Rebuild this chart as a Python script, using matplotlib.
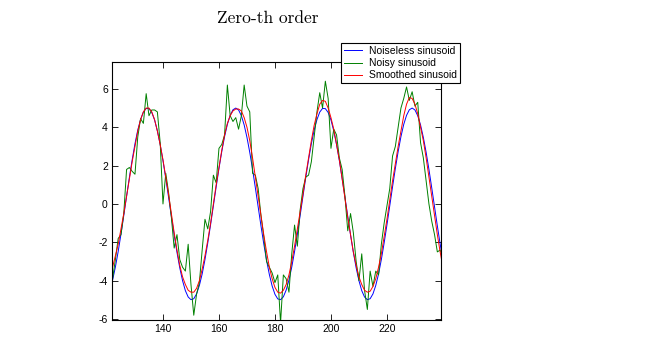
import matplotlib
matplotlib.use("Agg")
import matplotlib.pyplot as plt
import numpy as np

plt.rcParams['axes.unicode_minus'] = False

# sample positions
x = np.arange(121, 241)

noiseless = [
    -4.49, -3.97, -3.29, -2.48, -1.57, -0.60, 0.40, 1.38, 2.30, 3.14,
    3.85, 4.40, 4.79, 4.98, 4.97, 4.77, 4.38, 3.81, 3.10, 2.26,
    1.33, 0.35, -0.65, -1.62, -2.52, -3.33, -4.00, -4.52, -4.85, -4.99,
    -4.94, -4.69, -4.25, -3.65, -2.90, -2.03, -1.09, -0.10, 0.89, 1.85,
    2.73, 3.51, 4.15, 4.62, 4.91, 5.00, 4.90, 4.60, 4.12, 3.47,
    2.69, 1.80, 0.84, -0.15, -1.14, -2.08, -2.94, -3.68, -4.28, -4.71,
    -4.95, -4.99, -4.84, -4.49, -3.97, -3.29, -2.48, -1.57, -0.60, 0.40,
    1.38, 2.30, 3.14, 3.85, 4.40, 4.79, 4.98, 4.97, 4.77, 4.38,
    3.81, 3.10, 2.26, 1.33, 0.35, -0.65, -1.62, -2.52, -3.33, -4.00,
    -4.52, -4.85, -4.99, -4.94, -4.69, -4.25, -3.65, -2.90, -2.03, -1.09,
    -0.10, 0.89, 1.85, 2.73, 3.51, 4.15, 4.62, 4.91, 5.00, 4.90,
    4.60, 4.12, 3.47, 2.69, 1.80, 0.84, -0.15, -1.14, -2.08, -2.94,
]

noisy = [
    -4.4, -3.9, -2.9, -1.8, -1.6, -0.5, 1.8, 1.9, 1.7, 1.55,
    3.5, 4.45, 4.2, 5.75, 4.6, 4.9, 4.9, 4.8, 3.2, 0.0,
    1.6, 0.6, -0.7, -2.3, -1.6, -2.9, -3.3, -3.5, -2.1, -4.2,
    -5.8, -4.7, -4.1, -2.4, -0.8, -1.3, -0.4, 1.5, 1.1, 2.9,
    3.1, 3.6, 6.2, 4.6, 4.3, 4.5, 3.9, 4.6, 6.2, 5.1,
    4.8, 1.6, 1.5, 0.8, -0.6, -1.7, -3.0, -3.3, -3.6, -4.1,
    -3.7, -6.2, -3.7, -3.9, -4.6, -2.6, -1.1, -2.2, -0.3, 0.8,
    1.4, 1.5, 2.2, 3.5, 4.8, 5.8, 5.0, 6.4, 5.5, 2.9,
    3.9, 3.6, 2.4, 1.8, 0.4, -1.4, -0.5, -1.5, -3.0, -4.0,
    -2.6, -4.5, -5.5, -3.5, -4.3, -3.5, -3.7, -2.1, -1.0, -0.1,
    0.8, 2.5, 3.0, 4.0, 5.0, 5.5, 6.1, 5.4, 5.85, 5.1,
    5.3, 3.2, 2.4, 1.2, 0.0, -0.9, -1.6, -2.5, -2.4, -2.8,
]

smoothed = [
    -3.9, -3.3, -2.7, -2.1, -1.3, -0.5, 0.4, 1.3, 2.2, 3.0,
    3.8, 4.4, 4.8, 5.0, 5.0, 4.8, 4.4, 3.8, 3.1, 2.3,
    1.4, 0.5, -0.5, -1.5, -2.4, -3.2, -3.8, -4.2, -4.5, -4.6,
    -4.6, -4.4, -4.0, -3.4, -2.7, -1.9, -1.0, 0.0, 1.0, 1.9,
    2.8, 3.6, 4.2, 4.6, 4.85, 4.95, 4.95, 4.85, 4.5, 4.0,
    3.3, 2.4, 1.4, 0.4, -0.6, -1.6, -2.5, -3.3, -3.9, -4.35,
    -4.6, -4.65, -4.5, -4.2, -3.7, -3.0, -2.2, -1.3, -0.4, 0.5,
    1.5, 2.4, 3.3, 4.1, 4.7, 5.2, 5.4, 5.35, 5.0, 4.5,
    3.9, 3.1, 2.3, 1.3, 0.3, -0.7, -1.6, -2.5, -3.2, -3.8,
    -4.2, -4.5, -4.6, -4.55, -4.3, -3.9, -3.3, -2.6, -1.7, -0.8,
    0.2, 1.2, 2.1, 3.0, 3.8, 4.6, 5.2, 5.55, 5.5, 5.2,
    4.7, 4.0, 3.3, 2.4, 1.4, 0.4, -0.6, -1.6, -2.5, -3.3,
]

labels = ['Noiseless sinusoid', 'Noisy sinusoid', 'Smoothed sinusoid']

fig = plt.figure(figsize=(6.57, 3.56), dpi=100)
ax = fig.add_axes([0.1705, 0.1011, 0.5007, 0.7247])

ax.plot(x, noiseless, color='#0000ff', lw=0.7, label=labels[0])
ax.plot(x, noisy, color='#008000', lw=0.7, label=labels[1])
ax.plot(x, smoothed, color='#ff0000', lw=0.7, label=labels[2])

ax.set_xlim(121.8, 239.3)
ax.set_ylim(-6.05, 7.4)
ax.set_xticks([140, 160, 180, 200, 220])
ax.set_yticks([-6, -4, -2, 0, 2, 4, 6])
ax.tick_params(direction='in', length=4, width=0.6, top=True, right=True,
               labelsize=7.5, pad=3)
for lab in ax.get_xticklabels() + ax.get_yticklabels():
    lab.set_family('Liberation Sans')
for sp in ax.spines.values():
    sp.set_linewidth(0.8)

fig.text(0.408, 0.948, 'Zero-th order', ha='center', va='center',
         fontsize=12.5, family='cmr10')

leg = ax.legend(loc='upper right', bbox_to_anchor=(0.7002, 0.8792),
                bbox_transform=fig.transFigure, fancybox=False,
                edgecolor='black', framealpha=1, borderpad=0.3,
                labelspacing=0.2, handlelength=1.7, handletextpad=0.7,
                borderaxespad=0, prop={'family': 'Liberation Sans', 'size': 7.5})
leg.get_frame().set_linewidth(0.8)

fig.savefig('out.png', dpi=100)
